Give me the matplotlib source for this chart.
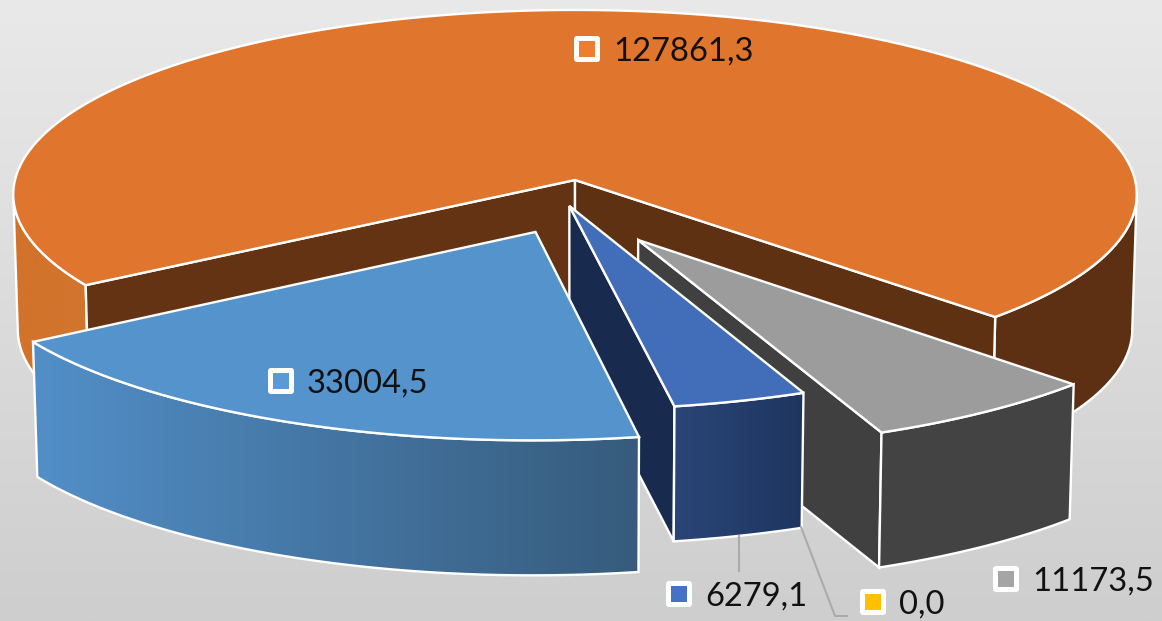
import numpy as np
import matplotlib
matplotlib.use('Agg')
import matplotlib.pyplot as plt
from matplotlib.colors import LinearSegmentedColormap
from matplotlib.patches import FancyBboxPatch, Polygon

plt.rcParams['font.family'] = ['Lato', 'DejaVu Sans']

# ========================== DATA (clockwise from the first slice) ==========================
names = ['blue', 'orange', 'gray', 'yellow', 'navy']
values = [33004.5, 127861.3, 11173.5, 0.0, 6279.1]
labels = ['33004,5', '127861,3', '11173,5', '0,0', '6279,1']
key_colors = ['#5B9BD5', '#ED7D31', '#A5A5A5', '#FFC000', '#4472C4']

top_colors = ['#5593CC', '#E0752D', '#9C9C9C', '#FFC000', '#426DB9']
label_xy = [(281, 381), (587, 49), (1006, 579), (873, 602), (679, 594)]
# explosion of each slice on the pie plane, in radius units
offset_u = [-0.069, 0.0, 0.110, 0.0, -0.010]
offset_v = [0.277, 0.0, 0.319, 0.0, 0.140]

# ========================== PROJECTION ==========================
CX, CY = 575, 180
RX, RY = 560, 183.4
PERSP = 0.0786
DEPTH = 135
SHRINK = 0.992
START = 80.1
SIDE_LEFT, SIDE_RIGHT = 175.5, 364.5   # where the rim turns away from the viewer


def project(u, v, low=False):
    s = 1 - PERSP * v
    x = CX + RX * u / s
    y = CY + RY * v / s
    if low:
        x = CX + (x - CX) * SHRINK
        y = y + DEPTH
    return np.column_stack([x, y])


def rim(a0, a1, du, dv, low=False):
    t = np.radians(np.linspace(a0, a1, 200))
    return project(np.cos(t) + du, np.sin(t) + dv, low)


def tip(du, dv, low=False):
    return project(np.array([du]), np.array([dv]), low)


def point(a, du, dv, low=False):
    t = np.radians(a)
    return project(np.array([np.cos(t) + du]), np.array([np.sin(t) + dv]), low)


def wall(a0, a1, du, dv):
    return np.vstack([rim(a0, a1, du, dv), rim(a0, a1, du, dv, True)[::-1]])


def radial(a, du, dv):
    return np.vstack([tip(du, dv), point(a, du, dv), point(a, du, dv, True), tip(du, dv, True)])


def poly(ax, pts, color, lw=1.7, z=2):
    p = Polygon(pts, closed=True, facecolor=color, edgecolor='white', linewidth=lw, joinstyle='miter', zorder=z)
    ax.add_patch(p)
    return p


def grad_wall(ax, pts, c0, c1, z):
    # horizontal gradient clipped to the wall outline
    p = poly(ax, pts, 'none', z=z + 0.1)
    cmap = LinearSegmentedColormap.from_list('w', [c0, c1])
    xs = pts[:, 0]
    im = ax.imshow(np.linspace(0, 1, 256).reshape(1, -1), cmap=cmap, aspect='auto',
                   extent=[xs.min(), xs.max(), 621, 0], zorder=z)
    im.set_clip_path(p)
    ax.set_xlim(0, 1162)
    ax.set_ylim(621, 0)


# ========================== FIGURE ==========================
fig = plt.figure(figsize=(11.62, 6.21), dpi=100)
ax = fig.add_axes([0, 0, 1, 1])
ax.axis('off')

bg = LinearSegmentedColormap.from_list('bg', ['#E9E9E9', '#CECECE'])
ax.imshow(np.linspace(0, 1, 256).reshape(-1, 1), cmap=bg, aspect='auto', extent=[0, 1162, 621, 0], zorder=0)
ax.set_xlim(0, 1162)
ax.set_ylim(621, 0)

sweep = np.array(values) / sum(values) * 360
starts = START + np.concatenate([[0], np.cumsum(sweep)[:-1]])
ends = starts + sweep
angles = dict(zip(names, zip(starts, ends)))
shift = dict(zip(names, zip(offset_u, offset_v)))
tops = dict(zip(names, top_colors))

# orange: outer walls, inner faces, then the top
a0, a1 = angles['orange']
grad_wall(ax, wall(a0, SIDE_LEFT, 0, 0), '#D2722B', '#D2752F', 2)
poly(ax, wall(SIDE_RIGHT, a1, 0, 0), '#5E3013', z=2)
poly(ax, radial(a0, 0, 0), '#643313', z=3)
poly(ax, radial(a1, 0, 0), '#5F3113', z=3)
poly(ax, np.vstack([tip(0, 0), rim(a0, a1, 0, 0)]), tops['orange'], z=4)

# gray
a0, a1 = angles['gray']
du, dv = shift['gray']
poly(ax, radial(a1, du, dv), '#404040', z=5)
poly(ax, wall(a0, a1, du, dv), '#434343', z=5.5)
poly(ax, np.vstack([tip(du, dv), rim(a0, a1, du, dv)]), tops['gray'], z=6)

# navy
a0, a1 = angles['navy']
du, dv = shift['navy']
poly(ax, radial(a1, du, dv), '#182B4F', z=7)
grad_wall(ax, wall(a0, a1, du, dv), '#2A4577', '#1E3560', 7.5)
poly(ax, np.vstack([tip(du, dv), rim(a0, a1, du, dv)]), tops['navy'], z=8)

# blue
a0, a1 = angles['blue']
du, dv = shift['blue']
grad_wall(ax, wall(a0, a1, du, dv), '#528FC8', '#365B7C', 9)
poly(ax, np.vstack([tip(du, dv), rim(a0, a1, du, dv)]), tops['blue'], z=10)

# leader lines
ax.plot([739, 739], [536, 571], color='#ABABAB', lw=1.5, zorder=11)
ax.plot([801, 835, 847], [527, 616, 616], color='#ABABAB', lw=1.5, zorder=11)

# labels with their small colour keys
for txt, col, (lx, ly) in zip(labels, key_colors, label_xy):
    ax.add_patch(FancyBboxPatch((lx - 11, ly - 11), 22, 22, boxstyle='round,pad=2,rounding_size=3',
                                facecolor='white', edgecolor='none', zorder=12))
    ax.add_patch(plt.Rectangle((lx - 8, ly - 8), 16, 16, facecolor=col, edgecolor='none', zorder=13))
    ax.text(lx + 26, ly + 3, txt, fontsize=23.6, color='#111111', ha='left', va='center', zorder=13)

fig.savefig('out.png', dpi=100)
